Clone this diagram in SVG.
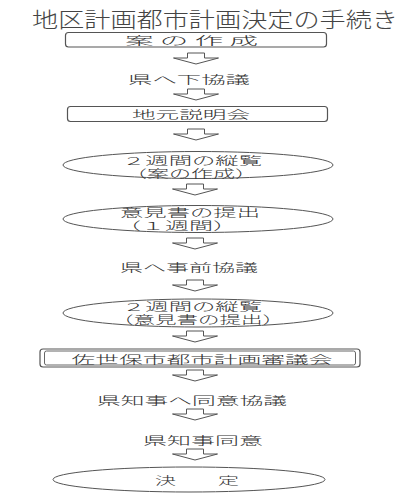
<svg xmlns="http://www.w3.org/2000/svg" width="417" height="500" viewBox="0 0 417 500">
<defs>
<style>
text{font-family:"Noto Sans CJK JP","Noto Sans CJK SC",sans-serif;fill:#333;text-anchor:middle;dominant-baseline:central;font-size:11px;font-weight:300}
.title{font-size:21px;fill:#444}
.box{fill:#fff;stroke:#555;stroke-width:1.2}
.ell{fill:#fff;stroke:#555;stroke-width:1}
.arr{fill:#fff;stroke:#555;stroke-width:1}
</style>
<path id="arrow" d="M-8.5,0 H8.5 V5 H22.5 L0,11 L-22.5,5 H-8.5 Z"/>
</defs>
<rect width="417" height="500" fill="#fff"/>
<g id="title"><text class="title" x="215" y="17.5" textLength="366" lengthAdjust="spacingAndGlyphs">地区計画都市計画決定の手続き</text></g>
<g id="connectors">
<use href="#arrow" class="arr" x="196" y="53"/>
<use href="#arrow" class="arr" x="196" y="89"/>
<use href="#arrow" class="arr" x="196" y="129"/>
<use href="#arrow" class="arr" x="195" y="184"/>
<use href="#arrow" class="arr" x="195" y="238"/>
<use href="#arrow" class="arr" x="195" y="280"/>
<use href="#arrow" class="arr" x="195" y="331"/>
<use href="#arrow" class="arr" x="195" y="370"/>
<use href="#arrow" class="arr" x="195" y="409"/>
<use href="#arrow" class="arr" x="195" y="449"/>
</g>
<g id="n1"><rect class="box" x="65.5" y="32.5" width="261" height="14.5" rx="3"/><text x="191.5" y="39.5" textLength="133" lengthAdjust="spacingAndGlyphs">案 の 作 成</text></g>
<g id="n2"><text x="189" y="79" textLength="122" lengthAdjust="spacingAndGlyphs">県へ下協議</text></g>
<g id="n3"><rect class="box" x="67.5" y="106.5" width="260" height="15" rx="3"/><text x="191" y="114" textLength="118" lengthAdjust="spacingAndGlyphs">地元説明会</text></g>
<g id="n4"><ellipse class="ell" cx="198" cy="165" rx="135" ry="13.5"/><text x="192" y="159.5" textLength="140" lengthAdjust="spacingAndGlyphs">２週間の縦覧</text><text x="191" y="172.5" textLength="132" lengthAdjust="spacingAndGlyphs">（案の作成）</text></g>
<g id="n5"><ellipse class="ell" cx="198" cy="219" rx="135" ry="13.5"/><text x="190" y="212" textLength="140" lengthAdjust="spacingAndGlyphs">意見書の提出</text><text x="177" y="225" textLength="120" lengthAdjust="spacingAndGlyphs">（１週間）</text></g>
<g id="n6"><text x="189" y="267" textLength="138" lengthAdjust="spacingAndGlyphs">県へ事前協議</text></g>
<g id="n7"><ellipse class="ell" cx="198" cy="313" rx="135" ry="14"/><text x="192" y="305.5" textLength="140" lengthAdjust="spacingAndGlyphs">２週間の縦覧</text><text x="198" y="319" textLength="172" lengthAdjust="spacingAndGlyphs">（意見書の提出）</text></g>
<g id="n8"><rect class="box" x="40" y="349" width="320" height="18" rx="3" stroke-width="2"/><rect x="44.5" y="351" width="311" height="14" rx="2" fill="none" stroke="#666" stroke-width="1"/><text x="202" y="358.5" textLength="261" lengthAdjust="spacingAndGlyphs">佐世保市都市計画審議会</text></g>
<g id="n9"><text x="192" y="400" textLength="190" lengthAdjust="spacingAndGlyphs">県知事へ同意協議</text></g>
<g id="n10"><text x="203" y="440" textLength="120" lengthAdjust="spacingAndGlyphs">県知事同意</text></g>
<g id="n11"><ellipse class="ell" cx="189" cy="479.5" rx="136" ry="12.5" stroke-width="2" stroke="#666"/><text x="197" y="480" textLength="84" lengthAdjust="spacingAndGlyphs">決　　定</text></g>
</svg>
